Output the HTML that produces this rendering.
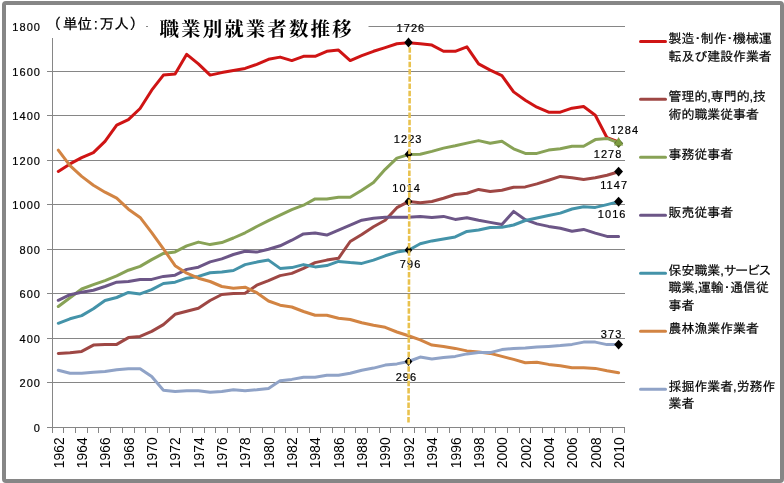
<!DOCTYPE html>
<html lang="ja">
<head>
<meta charset="utf-8">
<title>職業別就業者数推移</title>
<style>
html,body{margin:0;padding:0;background:#fff;}
body{width:784px;height:483px;overflow:hidden;position:relative;}
#frame{position:absolute;left:2px;top:1px;width:774px;height:474px;border:4px solid #868686;border-radius:4px;background:#fff;}
svg{position:absolute;left:0;top:0;}
.ax{font-family:"Liberation Sans",sans-serif;font-size:11px;letter-spacing:1.05px;fill:#000;stroke:#000;stroke-width:0.2px;}
.xl{font-family:"Liberation Sans",sans-serif;font-size:13.8px;fill:#000;}
.dl{font-family:"Liberation Sans",sans-serif;font-size:11px;letter-spacing:1.05px;fill:#000;stroke:#000;stroke-width:0.2px;}
.lg{font-family:"Liberation Sans","IPAGothic","Noto Sans CJK JP",sans-serif;font-size:12.9px;fill:#000;stroke:#000;stroke-width:0.2px;}
.un{font-family:"Liberation Sans","IPAGothic","Noto Sans CJK JP",sans-serif;font-size:14.6px;fill:#000;stroke:#000;stroke-width:0.25px;}
.tt{font-family:"Liberation Serif","Noto Serif CJK JP","Noto Serif CJK SC",serif;font-weight:bold;font-size:19.5px;letter-spacing:2.07px;fill:#000;}
</style>
</head>
<body>
<div id="frame"></div>
<svg width="784" height="483" viewBox="0 0 784 483">

<g fill="#868686" shape-rendering="crispEdges">
<rect x="47" y="26" width="578" height="1"/>
<rect x="47" y="71" width="578" height="1"/>
<rect x="47" y="115" width="578" height="1"/>
<rect x="47" y="160" width="578" height="1"/>
<rect x="47" y="204" width="578" height="1"/>
<rect x="47" y="249" width="578" height="1"/>
<rect x="47" y="293" width="578" height="1"/>
<rect x="47" y="338" width="578" height="1"/>
<rect x="47" y="382" width="578" height="1"/>
<rect x="47" y="427" width="578" height="1"/>
<rect x="52" y="26" width="1" height="402"/>
<rect x="52" y="428" width="1" height="5"/>
<rect x="63" y="428" width="1" height="5"/>
<rect x="75" y="428" width="1" height="5"/>
<rect x="87" y="428" width="1" height="5"/>
<rect x="98" y="428" width="1" height="5"/>
<rect x="110" y="428" width="1" height="5"/>
<rect x="122" y="428" width="1" height="5"/>
<rect x="134" y="428" width="1" height="5"/>
<rect x="145" y="428" width="1" height="5"/>
<rect x="157" y="428" width="1" height="5"/>
<rect x="169" y="428" width="1" height="5"/>
<rect x="180" y="428" width="1" height="5"/>
<rect x="192" y="428" width="1" height="5"/>
<rect x="204" y="428" width="1" height="5"/>
<rect x="215" y="428" width="1" height="5"/>
<rect x="227" y="428" width="1" height="5"/>
<rect x="239" y="428" width="1" height="5"/>
<rect x="250" y="428" width="1" height="5"/>
<rect x="262" y="428" width="1" height="5"/>
<rect x="274" y="428" width="1" height="5"/>
<rect x="285" y="428" width="1" height="5"/>
<rect x="297" y="428" width="1" height="5"/>
<rect x="309" y="428" width="1" height="5"/>
<rect x="320" y="428" width="1" height="5"/>
<rect x="332" y="428" width="1" height="5"/>
<rect x="344" y="428" width="1" height="5"/>
<rect x="355" y="428" width="1" height="5"/>
<rect x="367" y="428" width="1" height="5"/>
<rect x="379" y="428" width="1" height="5"/>
<rect x="390" y="428" width="1" height="5"/>
<rect x="402" y="428" width="1" height="5"/>
<rect x="414" y="428" width="1" height="5"/>
<rect x="425" y="428" width="1" height="5"/>
<rect x="437" y="428" width="1" height="5"/>
<rect x="449" y="428" width="1" height="5"/>
<rect x="460" y="428" width="1" height="5"/>
<rect x="472" y="428" width="1" height="5"/>
<rect x="484" y="428" width="1" height="5"/>
<rect x="495" y="428" width="1" height="5"/>
<rect x="507" y="428" width="1" height="5"/>
<rect x="519" y="428" width="1" height="5"/>
<rect x="530" y="428" width="1" height="5"/>
<rect x="542" y="428" width="1" height="5"/>
<rect x="554" y="428" width="1" height="5"/>
<rect x="565" y="428" width="1" height="5"/>
<rect x="577" y="428" width="1" height="5"/>
<rect x="589" y="428" width="1" height="5"/>
<rect x="600" y="428" width="1" height="5"/>
<rect x="612" y="428" width="1" height="5"/>
<rect x="624" y="428" width="1" height="5"/>
</g>
<rect x="44" y="12" width="102" height="26" fill="#fff"/>
<rect x="148" y="10" width="220.5" height="30" fill="#fff"/>
<polyline points="58.3,171.4 70.0,163.9 81.7,157.6 93.4,152.6 105.0,141.4 116.7,125.2 128.4,119.6 140.1,108.5 151.7,90.2 163.4,75.1 175.1,73.9 186.7,54.3 198.4,63.9 210.1,75.1 221.8,72.6 233.4,70.5 245.1,68.4 256.8,64.4 268.5,59.3 280.1,57.1 291.8,60.6 303.5,56.3 315.1,56.3 326.8,51.3 338.5,50.1 350.2,60.6 361.8,55.6 373.5,51.3 385.2,47.6 396.9,43.8 408.5,42.8 420.2,43.8 431.9,45.1 443.5,51.3 455.2,51.3 466.9,46.8 478.6,63.9 490.2,70.1 501.9,75.6 513.6,91.9 525.3,100.2 536.9,107.2 548.6,112.2 560.3,112.2 572.0,108.2 583.6,106.5 595.3,115.2 607.0,137.7 618.6,142.0" fill="none" stroke="#CF1414" stroke-width="3" stroke-linejoin="round" stroke-linecap="round"/>
<polyline points="58.3,353.4 70.0,352.7 81.7,351.4 93.4,345.1 105.0,344.4 116.7,344.4 128.4,337.6 140.1,336.4 151.7,331.4 163.4,324.6 175.1,314.3 186.7,311.3 198.4,308.3 210.1,300.5 221.8,294.5 233.4,293.6 245.1,293.2 256.8,285.2 268.5,280.7 280.1,275.6 291.8,273.4 303.5,268.4 315.1,262.6 326.8,260.1 338.5,258.3 350.2,241.5 361.8,234.5 373.5,226.8 385.2,220.3 396.9,207.7 408.5,201.6 420.2,202.7 431.9,201.5 443.5,198.2 455.2,194.5 466.9,193.2 478.6,189.4 490.2,191.5 501.9,190.2 513.6,187.2 525.3,186.9 536.9,183.9 548.6,180.2 560.3,176.4 572.0,177.7 583.6,179.4 595.3,177.7 607.0,175.2 618.6,171.8" fill="none" stroke="#9E4744" stroke-width="3" stroke-linejoin="round" stroke-linecap="round"/>
<polyline points="58.3,306.5 70.0,297.7 81.7,289.0 93.4,284.7 105.0,280.7 116.7,275.9 128.4,270.2 140.1,266.4 151.7,259.6 163.4,253.4 175.1,251.9 186.7,245.9 198.4,242.1 210.1,244.6 221.8,242.6 233.4,238.0 245.1,232.8 256.8,226.5 268.5,220.7 280.1,215.2 291.8,209.7 303.5,205.2 315.1,198.9 326.8,198.9 338.5,197.2 350.2,197.2 361.8,190.2 373.5,182.6 385.2,169.3 396.9,158.1 408.5,154.6 420.2,154.3 431.9,151.4 443.5,148.1 455.2,145.8 466.9,143.1 478.6,140.6 490.2,143.3 501.9,141.3 513.6,148.8 525.3,153.4 536.9,153.4 548.6,150.1 560.3,148.8 572.0,146.3 583.6,146.3 595.3,139.6 607.0,138.4 618.6,142.8" fill="none" stroke="#88A256" stroke-width="3" stroke-linejoin="round" stroke-linecap="round"/>
<polyline points="58.3,300.3 70.0,294.7 81.7,292.2 93.4,290.2 105.0,286.5 116.7,282.2 128.4,281.5 140.1,279.4 151.7,279.4 163.4,276.4 175.1,275.2 186.7,269.4 198.4,267.2 210.1,261.9 221.8,258.9 233.4,254.5 245.1,251.3 256.8,252.1 268.5,249.2 280.1,245.8 291.8,240.2 303.5,233.9 315.1,233.1 326.8,235.1 338.5,230.1 350.2,225.2 361.8,220.2 373.5,218.2 385.2,217.2 396.9,217.2 408.5,217.2 420.2,216.5 431.9,217.4 443.5,216.4 455.2,219.4 466.9,217.7 478.6,220.2 490.2,222.4 501.9,224.5 513.6,211.4 525.3,219.7 536.9,223.9 548.6,226.4 560.3,228.3 572.0,231.2 583.6,229.4 595.3,233.1 607.0,236.4 618.6,236.4" fill="none" stroke="#6C5687" stroke-width="3" stroke-linejoin="round" stroke-linecap="round"/>
<polyline points="58.3,323.3 70.0,318.8 81.7,315.6 93.4,308.8 105.0,300.5 116.7,297.5 128.4,292.4 140.1,293.9 151.7,289.7 163.4,283.5 175.1,282.2 186.7,278.2 198.4,276.4 210.1,272.7 221.8,271.9 233.4,270.5 245.1,264.6 256.8,262.1 268.5,260.1 280.1,268.4 291.8,267.6 303.5,264.6 315.1,266.9 326.8,265.6 338.5,261.4 350.2,262.6 361.8,263.4 373.5,260.1 385.2,255.8 396.9,252.1 408.5,250.2 420.2,243.8 431.9,240.9 443.5,238.9 455.2,236.9 466.9,231.4 478.6,230.0 490.2,227.5 501.9,227.3 513.6,225.0 525.3,220.5 536.9,218.0 548.6,215.5 560.3,213.1 572.0,209.0 583.6,206.8 595.3,207.4 607.0,204.6 618.6,201.6" fill="none" stroke="#4493A9" stroke-width="3" stroke-linejoin="round" stroke-linecap="round"/>
<polyline points="58.3,150.1 70.0,165.7 81.7,176.4 93.4,185.2 105.0,192.2 116.7,198.2 128.4,209.2 140.1,217.4 151.7,232.6 163.4,248.9 175.1,265.7 186.7,273.2 198.4,278.2 210.1,281.5 221.8,286.5 233.4,288.2 245.1,287.2 256.8,292.7 268.5,301.0 280.1,305.2 291.8,307.0 303.5,311.5 315.1,315.2 326.8,315.2 338.5,318.2 350.2,319.5 361.8,322.8 373.5,325.3 385.2,327.3 396.9,332.0 408.5,335.8 420.2,339.8 431.9,345.1 443.5,346.4 455.2,348.4 466.9,350.9 478.6,351.9 490.2,353.4 501.9,356.4 513.6,359.4 525.3,362.7 536.9,362.2 548.6,364.4 560.3,365.7 572.0,367.7 583.6,367.7 595.3,368.4 607.0,370.7 618.6,372.7" fill="none" stroke="#D28443" stroke-width="3" stroke-linejoin="round" stroke-linecap="round"/>
<polyline points="58.3,370.2 70.0,373.2 81.7,373.2 93.4,372.2 105.0,371.5 116.7,369.7 128.4,368.7 140.1,368.7 151.7,376.5 163.4,390.3 175.1,391.5 186.7,390.8 198.4,390.8 210.1,392.3 221.8,391.5 233.4,389.7 245.1,390.7 256.8,389.7 268.5,388.4 280.1,380.7 291.8,379.4 303.5,377.2 315.1,377.2 326.8,375.2 338.5,375.2 350.2,373.2 361.8,370.2 373.5,368.1 385.2,365.1 396.9,363.9 408.5,361.5 420.2,357.1 431.9,358.9 443.5,357.6 455.2,356.4 466.9,353.9 478.6,352.6 490.2,352.6 501.9,349.6 513.6,348.4 525.3,348.1 536.9,347.1 548.6,346.4 560.3,345.6 572.0,344.4 583.6,342.1 595.3,342.1 607.0,344.6 618.6,344.5" fill="none" stroke="#90A3C7" stroke-width="3" stroke-linejoin="round" stroke-linecap="round"/>
<polygon points="408.5,37.4 412.7,42.5 408.5,47.6 404.3,42.5" fill="#000"/>
<polygon points="408.5,149.8 412.4,154.3 408.5,158.8 404.6,154.3" fill="#000"/>
<polygon points="408.5,197.0 412.4,201.5 408.5,206.0 404.6,201.5" fill="#000"/>
<polygon points="408.5,245.6 412.4,250.1 408.5,254.6 404.6,250.1" fill="#000"/>
<polygon points="408.5,356.9 412.4,361.4 408.5,365.9 404.6,361.4" fill="#000"/>
<polygon points="618.6,166.7 623.0,171.6 618.6,176.5 614.2,171.6" fill="#000"/>
<polygon points="618.6,196.7 623.0,201.6 618.6,206.5 614.2,201.6" fill="#000"/>
<polygon points="618.6,339.7 623.0,344.6 618.6,349.5 614.2,344.6" fill="#000"/>
<polygon points="618.6,138.4 623.2,143.2 618.6,148.0 614.0,143.2" fill="#4F6228"/>
<polygon points="618.6,137.0 623.2,145.6 614.0,145.6" fill="#7D9C40"/>
<text class="dl" x="410.9" y="31.9" text-anchor="middle">1726</text>
<text class="dl" x="408.2" y="143.0" text-anchor="middle">1223</text>
<text class="dl" x="406.7" y="191.9" text-anchor="middle">1014</text>
<text class="dl" x="410.6" y="267.9" text-anchor="middle">796</text>
<text class="dl" x="406.4" y="380.9" text-anchor="middle">296</text>
<text class="dl" x="624.8" y="133.9" text-anchor="middle">1284</text>
<text class="dl" x="608.1" y="158.0" text-anchor="middle">1278</text>
<text class="dl" x="614.2" y="188.9" text-anchor="middle">1147</text>
<text class="dl" x="612.2" y="217.9" text-anchor="middle">1016</text>
<text class="dl" x="611.6" y="338.1" text-anchor="middle">373</text>
<line x1="409.8" y1="47.3" x2="408.5" y2="423" stroke="#E9C24E" stroke-width="2.6" stroke-dasharray="5.5 1.75"/>
<text class="ax" x="41.0" y="31.0" text-anchor="end">1800</text>
<text class="ax" x="41.0" y="76.0" text-anchor="end">1600</text>
<text class="ax" x="41.0" y="120.0" text-anchor="end">1400</text>
<text class="ax" x="41.0" y="165.0" text-anchor="end">1200</text>
<text class="ax" x="41.0" y="209.0" text-anchor="end">1000</text>
<text class="ax" x="41.0" y="254.0" text-anchor="end">800</text>
<text class="ax" x="41.0" y="298.0" text-anchor="end">600</text>
<text class="ax" x="41.0" y="343.0" text-anchor="end">400</text>
<text class="ax" x="41.0" y="387.0" text-anchor="end">200</text>
<text class="ax" x="41.0" y="432.0" text-anchor="end">0</text>
<text class="xl" transform="translate(63.6,437.2) rotate(-90)" text-anchor="end" letter-spacing="0.1">1962</text>
<text class="xl" transform="translate(86.9,437.2) rotate(-90)" text-anchor="end" letter-spacing="0.1">1964</text>
<text class="xl" transform="translate(110.3,437.2) rotate(-90)" text-anchor="end" letter-spacing="0.1">1966</text>
<text class="xl" transform="translate(133.6,437.2) rotate(-90)" text-anchor="end" letter-spacing="0.1">1968</text>
<text class="xl" transform="translate(157.0,437.2) rotate(-90)" text-anchor="end" letter-spacing="0.1">1970</text>
<text class="xl" transform="translate(180.3,437.2) rotate(-90)" text-anchor="end" letter-spacing="0.1">1972</text>
<text class="xl" transform="translate(203.7,437.2) rotate(-90)" text-anchor="end" letter-spacing="0.1">1974</text>
<text class="xl" transform="translate(227.0,437.2) rotate(-90)" text-anchor="end" letter-spacing="0.1">1976</text>
<text class="xl" transform="translate(250.4,437.2) rotate(-90)" text-anchor="end" letter-spacing="0.1">1978</text>
<text class="xl" transform="translate(273.7,437.2) rotate(-90)" text-anchor="end" letter-spacing="0.1">1980</text>
<text class="xl" transform="translate(297.1,437.2) rotate(-90)" text-anchor="end" letter-spacing="0.1">1982</text>
<text class="xl" transform="translate(320.4,437.2) rotate(-90)" text-anchor="end" letter-spacing="0.1">1984</text>
<text class="xl" transform="translate(343.7,437.2) rotate(-90)" text-anchor="end" letter-spacing="0.1">1986</text>
<text class="xl" transform="translate(367.1,437.2) rotate(-90)" text-anchor="end" letter-spacing="0.1">1988</text>
<text class="xl" transform="translate(390.4,437.2) rotate(-90)" text-anchor="end" letter-spacing="0.1">1990</text>
<text class="xl" transform="translate(413.8,437.2) rotate(-90)" text-anchor="end" letter-spacing="0.1">1992</text>
<text class="xl" transform="translate(437.1,437.2) rotate(-90)" text-anchor="end" letter-spacing="0.1">1994</text>
<text class="xl" transform="translate(460.5,437.2) rotate(-90)" text-anchor="end" letter-spacing="0.1">1996</text>
<text class="xl" transform="translate(483.8,437.2) rotate(-90)" text-anchor="end" letter-spacing="0.1">1998</text>
<text class="xl" transform="translate(507.2,437.2) rotate(-90)" text-anchor="end" letter-spacing="0.1">2000</text>
<text class="xl" transform="translate(530.5,437.2) rotate(-90)" text-anchor="end" letter-spacing="0.1">2002</text>
<text class="xl" transform="translate(553.9,437.2) rotate(-90)" text-anchor="end" letter-spacing="0.1">2004</text>
<text class="xl" transform="translate(577.2,437.2) rotate(-90)" text-anchor="end" letter-spacing="0.1">2006</text>
<text class="xl" transform="translate(600.5,437.2) rotate(-90)" text-anchor="end" letter-spacing="0.1">2008</text>
<text class="xl" transform="translate(623.9,437.2) rotate(-90)" text-anchor="end" letter-spacing="0.1">2010</text>
<text class="un" x="46.5" y="29.3">（<tspan dx="1.8">単位</tspan><tspan dx="1.7">:</tspan><tspan dx="1.7">万人</tspan><tspan dx="0.7">）</tspan></text>
<text class="tt" x="159.5" y="35.5">職業別就業者数推移</text>
<rect x="146" y="26" width="2" height="1" fill="#868686"/>
<line x1="640.5" y1="41.4" x2="665.5" y2="41.4" stroke="#CF1414" stroke-width="3" stroke-linecap="round"/>
<text class="lg" x="668.6" y="43.3">製造･制作･機械運</text>
<text class="lg" x="668.6" y="60.8">転及び建設作業者</text>
<line x1="640.5" y1="99.3" x2="665.5" y2="99.3" stroke="#9E4744" stroke-width="3" stroke-linecap="round"/>
<text class="lg" x="668.6" y="101.3">管理的,専門的,技</text>
<text class="lg" x="668.6" y="118.8">術的職業従事者</text>
<line x1="640.5" y1="157.3" x2="665.5" y2="157.3" stroke="#88A256" stroke-width="3" stroke-linecap="round"/>
<text class="lg" x="668.6" y="158.7">事務従事者</text>
<line x1="640.5" y1="215.3" x2="665.5" y2="215.3" stroke="#6C5687" stroke-width="3" stroke-linecap="round"/>
<text class="lg" x="668.6" y="216.8">販売従事者</text>
<line x1="640.5" y1="273.3" x2="665.5" y2="273.3" stroke="#4493A9" stroke-width="3" stroke-linecap="round"/>
<text class="lg" x="668.6" y="274.9">保安職業,<tspan letter-spacing="-1.3">サービス</tspan></text>
<text class="lg" x="668.6" y="292.4">職業,運輸･通信従</text>
<text class="lg" x="668.6" y="309.9">事者</text>
<line x1="640.5" y1="331.3" x2="665.5" y2="331.3" stroke="#D28443" stroke-width="3" stroke-linecap="round"/>
<text class="lg" x="668.6" y="332.7">農林漁業作業者</text>
<line x1="640.5" y1="389.3" x2="665.5" y2="389.3" stroke="#90A3C7" stroke-width="3" stroke-linecap="round"/>
<text class="lg" x="668.6" y="390.8">採掘作業者,労務作</text>
<text class="lg" x="668.6" y="408.3">業者</text>
</svg>
</body>
</html>
